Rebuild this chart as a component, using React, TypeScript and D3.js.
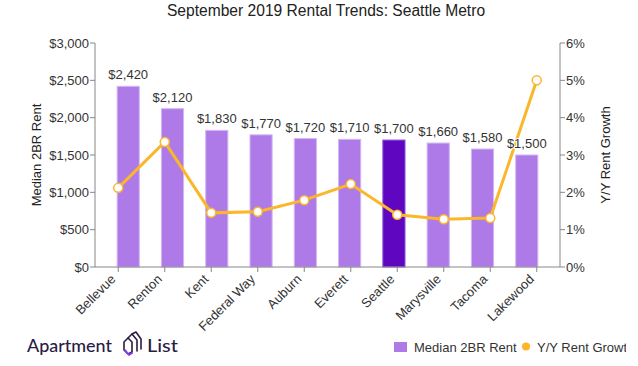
import React from "react";
import * as d3 from "d3";

const cities = ["Bellevue", "Renton", "Kent", "Federal Way", "Auburn", "Everett", "Seattle", "Marysville", "Tacoma", "Lakewood"];
const rents = [2420, 2120, 1830, 1770, 1720, 1710, 1700, 1660, 1580, 1500];
const growth = [2.12, 3.35, 1.45, 1.48, 1.79, 2.22, 1.4, 1.28, 1.31, 5.0];
const rentTicks = [0, 500, 1000, 1500, 2000, 2500, 3000];
const growthTicks = [0, 1, 2, 3, 4, 5, 6];
const highlight = "Seattle";

const W = 638, H = 366;
const L = 95, R = 560, T = 43, B = 267;
const font = "Arial, 'Liberation Sans', sans-serif";

export default function App() {
  const x = d3.scaleBand<string>().domain(cities).range([L, R]).padding(0.5);
  const xc = d3.scalePoint<string>().domain(cities).range([L, R]).padding(0.5);
  const y = d3.scaleLinear().domain([0, 3000]).range([B, T]);
  const y2 = d3.scaleLinear().domain([0, 6]).range([B, T]);
  const fmt = (v: number) => "$" + d3.format(",")(v);
  const line = d3.line<number>().x((_, i) => (xc(cities[i]) as number)).y((d) => y2(d));
  return (
    <svg width={W} height={H} style={{ position: "absolute", left: 0, top: 0, fontFamily: font }}>
      <defs>
        <clipPath id="legclip"><rect x={380} y={330} width={246} height={30} /></clipPath>
      </defs>
      <rect width={W} height={H} fill="#fff" />
      <text x={326} y={16} textAnchor="middle" fontSize={15.6} fill="#222">September 2019 Rental Trends: Seattle Metro</text>
      {cities.map((c, i) => (
        <rect key={c} x={x(c)} y={y(rents[i])} width={x.bandwidth()} height={B - y(rents[i])}
          fill={c === highlight ? "#5f06c1" : "#ae7ae8"} stroke={c === highlight ? "#8a4fd6" : "#d2b6f5"} strokeWidth={1} />
      ))}
      <path d={line(growth) as string} fill="none" stroke="#fbb62a" strokeWidth={3} />
      {growth.map((g, i) => (
        <circle key={i} cx={xc(cities[i])} cy={y2(g)} r={4.5} fill="#fff" stroke="#fbb62a" strokeWidth={1.5} />
      ))}
      {cities.map((c, i) => (
        <text key={c} x={(x(c) as number) + x.bandwidth() / 2} y={y(rents[i]) - 7} textAnchor="middle" fontSize={13} fill="#333"
          stroke="#fff" strokeWidth={2} paintOrder="stroke" strokeLinejoin="round">{fmt(rents[i])}</text>
      ))}
      {/* left axis */}
      <line x1={L} x2={L} y1={T} y2={B} stroke="#888" />
      {rentTicks.map((t) => (
        <g key={t}>
          <line x1={L - 5} x2={L} y1={y(t)} y2={y(t)} stroke="#888" />
          <text x={L - 6} y={y(t) + 4.5} textAnchor="end" fontSize={13} fill="#333">{fmt(t)}</text>
        </g>
      ))}
      {/* right axis */}
      <line x1={R} x2={R} y1={T} y2={B} stroke="#888" />
      {growthTicks.map((t) => (
        <g key={t}>
          <line x1={R} x2={R + 5} y1={y2(t)} y2={y2(t)} stroke="#888" />
          <text x={R + 6} y={y2(t) + 4.5} textAnchor="start" fontSize={13} fill="#333">{t + "%"}</text>
        </g>
      ))}
      {/* bottom axis */}
      <line x1={L} x2={R} y1={B} y2={B} stroke="#888" />
      {cities.map((c) => {
        const cx = xc(c) as number;
        return (
          <g key={c}>
            <line x1={cx} x2={cx} y1={B} y2={B + 5} stroke="#888" />
            <text transform={`translate(${cx - 2},${B + 13}) rotate(-45)`} textAnchor="end" fontSize={13} fill="#333">{c}</text>
          </g>
        );
      })}
      <text transform={`translate(41,${(T + B) / 2}) rotate(-90)`} textAnchor="middle" fontSize={13} fill="#222">Median 2BR Rent</text>
      <text transform={`translate(610,${(T + B) / 2}) rotate(-90)`} textAnchor="middle" fontSize={13} fill="#222">Y/Y Rent Growth</text>
      {/* legend */}
      <g clipPath="url(#legclip)">
        <rect x={394} y={342} width={13} height={10} fill="#ae7ae8" />
        <text x={414} y={351.5} fontSize={13} fill="#333">Median 2BR Rent</text>
        <circle cx={526} cy={346.5} r={4} fill="#fbb62a" />
        <text x={537} y={351.5} fontSize={13} fill="#333">Y/Y Rent Growth</text>
      </g>
      {/* logo */}
      <text x={27} y={352} fontSize={18} fontWeight={500} fill="#2b1b45" fontFamily="Lato, 'Noto Sans', sans-serif" textLength={85} lengthAdjust="spacingAndGlyphs">Apartment</text>
      <g transform="translate(122,333)" fill="none" strokeWidth={1.6} strokeLinejoin="round" strokeLinecap="round">
        <path d="M2 9 L6 5 L10 9 L10 19 L6 21 L2 17 Z" stroke="#2b1b45" />
        <path d="M6 5 L10 1 L15 7 L15 18" stroke="#2b1b45" />
        <path d="M10 1 L14 -1 L19 6 L19 16" stroke="#2b1b45" />
        <path d="M3 17 L7 22 L10 20" stroke="#8a3ff0" strokeWidth={2} />
      </g>
      <text x={147} y={352} fontSize={18} fontWeight={500} fill="#2b1b45" fontFamily="Lato, 'Noto Sans', sans-serif" textLength={31} lengthAdjust="spacingAndGlyphs">List</text>
    </svg>
  );
}
